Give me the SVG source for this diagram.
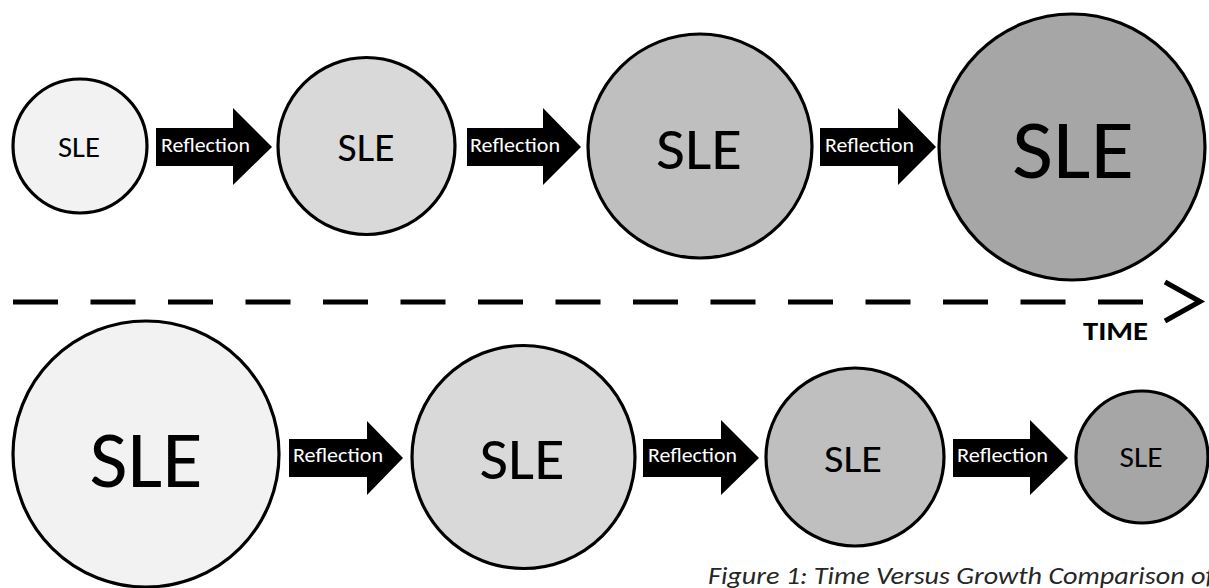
<svg xmlns="http://www.w3.org/2000/svg" width="1209" height="588" viewBox="0 0 1209 588">
<style>
.c{stroke:#000;stroke-width:3.2}
.f1{fill:#f2f2f2}.f2{fill:#d9d9d9}.f3{fill:#bfbfbf}.f4{fill:#a6a6a6}
.t{font-family:Carlito,Lato,"Liberation Sans",sans-serif;fill:#000;text-anchor:middle}
.r{font-family:Carlito,Lato,"Liberation Sans",sans-serif;fill:#fff;font-size:20px}
.a{fill:#000}
</style>
<rect width="1209" height="588" fill="#fff"/>
<g id="n1"><circle class="c f1" cx="80" cy="146" r="67"/><text class="t" x="79" y="157" font-size="28" textLength="42" lengthAdjust="spacingAndGlyphs">SLE</text></g>
<g id="n2"><circle class="c f2" cx="366.5" cy="146" r="88.5"/><text class="t" x="366" y="161" font-size="40" textLength="57" lengthAdjust="spacingAndGlyphs">SLE</text></g>
<g id="n3"><circle class="c f3" cx="700" cy="146" r="112"/><text class="t" x="699" y="169" font-size="59" textLength="86" lengthAdjust="spacingAndGlyphs">SLE</text></g>
<g id="n4"><circle class="c f4" cx="1072" cy="147" r="133"/><text class="t" x="1073" y="178" font-size="85" textLength="122" lengthAdjust="spacingAndGlyphs">SLE</text></g>
<g id="n5"><circle class="c f1" cx="146" cy="454" r="133"/><text class="t" x="146" y="487" font-size="80" textLength="113" lengthAdjust="spacingAndGlyphs">SLE</text></g>
<g id="n6"><circle class="c f2" cx="523.5" cy="457" r="111.5"/><text class="t" x="522" y="479" font-size="59" textLength="85" lengthAdjust="spacingAndGlyphs">SLE</text></g>
<g id="n7"><circle class="c f3" cx="855" cy="457" r="89"/><text class="t" x="853" y="472" font-size="38" textLength="58" lengthAdjust="spacingAndGlyphs">SLE</text></g>
<g id="n8"><circle class="c f4" cx="1142" cy="457" r="66"/><text class="t" x="1141" y="467" font-size="28" textLength="43" lengthAdjust="spacingAndGlyphs">SLE</text></g>
<g id="connectors">
<g id="e1"><path class="a" d="M156,128H233V108L272,147L233,185V166H156Z"/><text class="r" x="161" y="152" textLength="89" lengthAdjust="spacingAndGlyphs">Reflection</text></g>
<g id="e2"><path class="a" d="M467,128H543V108L581,147L543,185V166H467Z"/><text class="r" x="470" y="152" textLength="90" lengthAdjust="spacingAndGlyphs">Reflection</text></g>
<g id="e3"><path class="a" d="M820,128H898V108L936,147L898,185V166H820Z"/><text class="r" x="825" y="152" textLength="89" lengthAdjust="spacingAndGlyphs">Reflection</text></g>
<g id="e4"><path class="a" d="M289,439H367V421L403,458L367,495V477H289Z"/><text class="r" x="293" y="462" textLength="90" lengthAdjust="spacingAndGlyphs">Reflection</text></g>
<g id="e5"><path class="a" d="M643,439H721V420L759,458L721,495V477H643Z"/><text class="r" x="648" y="462" textLength="89" lengthAdjust="spacingAndGlyphs">Reflection</text></g>
<g id="e6"><path class="a" d="M953,439H1030V420L1068,458L1030,495V477H953Z"/><text class="r" x="957" y="462" textLength="91" lengthAdjust="spacingAndGlyphs">Reflection</text></g>
</g>
<g id="time">
<line x1="13" y1="302" x2="1143" y2="302" stroke="#000" stroke-width="5" stroke-dasharray="45 32.5"/>
<polyline points="1165,282 1200,301.5 1165,321" fill="none" stroke="#000" stroke-width="5"/>
<text x="1115.5" y="340" font-family="Carlito,Lato,'Liberation Sans',sans-serif" font-weight="bold" font-size="27" text-anchor="middle" textLength="65" lengthAdjust="spacingAndGlyphs">TIME</text>
</g>
<text x="708" y="584" font-family="Carlito,Lato,'Liberation Sans',sans-serif" font-style="italic" font-size="25" fill="#262626" textLength="506" lengthAdjust="spacingAndGlyphs">Figure 1: Time Versus Growth Comparison of</text>
</svg>
